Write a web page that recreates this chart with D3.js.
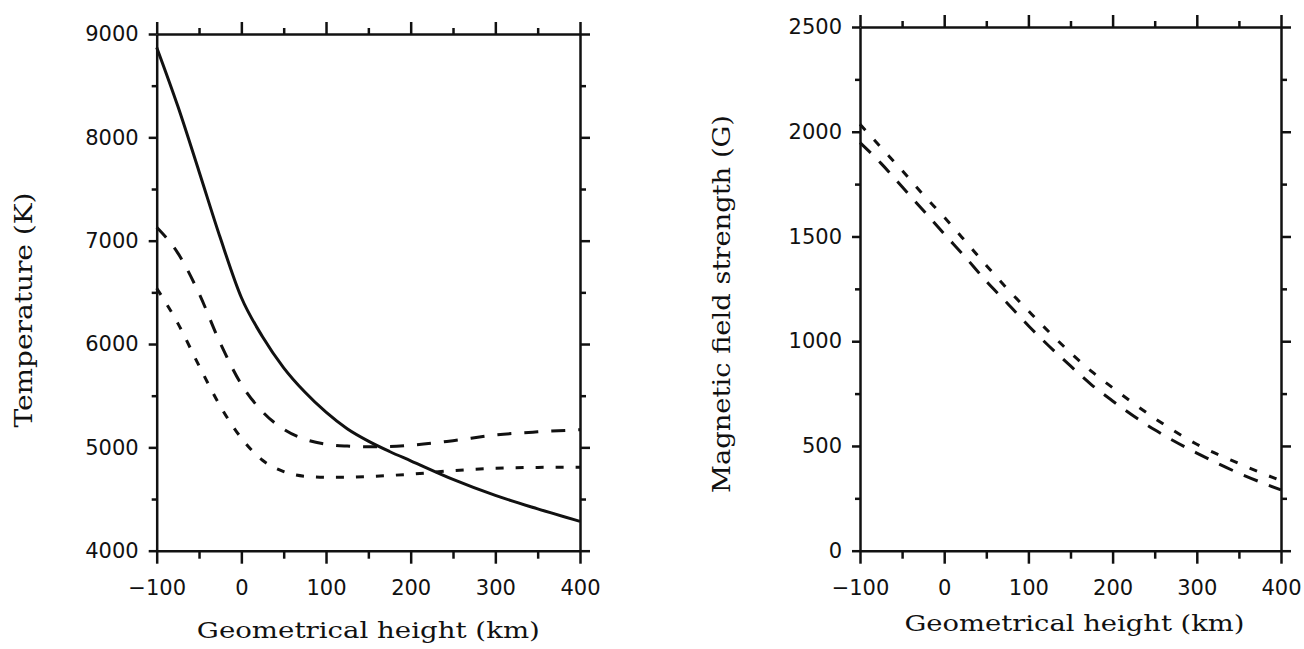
<!DOCTYPE html>
<html>
<head>
<meta charset="utf-8">
<script src="https://cdn.jsdelivr.net/npm/d3@7"></script>
<style>
  body { margin: 0; background: #fff; }
  svg { display: block; }
</style>
</head>
<body>
<div id="chart"></div>
<script>
var heights = [-100, -75, -50, -25, 0, 25, 50, 75, 100, 125, 150, 175, 200, 250, 300, 350, 400];

// left panel: temperature (K)
var tempSolid = [8870, 8300, 7670, 7030, 6450, 6070, 5770, 5535, 5340, 5180, 5060, 4960, 4870, 4690, 4535, 4405, 4284];
var tempLongDash = [7130, 6880, 6490, 6010, 5610, 5345, 5175, 5078, 5030, 5012, 5005, 5008, 5020, 5065, 5120, 5150, 5170];
var tempShortDash = [6540, 6200, 5790, 5400, 5090, 4875, 4765, 4720, 4710, 4712, 4718, 4728, 4740, 4775, 4797, 4806, 4808];

// right panel: magnetic field strength (G)
var fieldShortDash = [2036, 1925, 1815, 1700, 1592, 1478, 1362, 1250, 1145, 1042, 945, 856, 778, 632, 508, 416, 334];
var fieldLongDash = [1948, 1849, 1737, 1625, 1512, 1402, 1286, 1181, 1074, 975, 882, 792, 715, 577, 466, 370, 290];

// tick values
var xMajor = [-100, 0, 100, 200, 300, 400];
var xMinor = [-50, 50, 150, 250, 350];
var tempMajor = [4000, 5000, 6000, 7000, 8000, 9000];
var tempMinor = [4500, 5500, 6500, 7500, 8500];
var fieldMajor = [0, 500, 1000, 1500, 2000, 2500];
var fieldMinor = [250, 750, 1250, 1750, 2250];

var svgWidth = 1304;
var svgHeight = 649;
var ink = "#111";

var svg = d3.select("#chart")
  .append("svg")
  .attr("width", svgWidth)
  .attr("height", svgHeight);

// minus sign like the original
function fmt(d) {
  return d < 0 ? "\u2212" + Math.abs(d) : String(d);
}

function styleAxis(g) {
  g.selectAll("path, line").attr("stroke", ink).attr("stroke-width", 2.5);
  g.selectAll("text")
    .attr("fill", ink)
    .style("font-family", "'DejaVu Sans', sans-serif")
    .style("font-size", "21px");
}

function drawPanel(opts) {
  var x = d3.scaleLinear().domain([-100, 400]).range(opts.xRange);
  var y = d3.scaleLinear().domain(opts.yDomain).range(opts.yRange);
  var g = svg.append("g");

  // bottom axis (labels), top axis (ticks only)
  g.append("g").attr("transform", `translate(0, ${opts.yRange[0]})`)
    .call(d3.axisBottom(x).tickValues(xMajor).tickSize(13).tickSizeOuter(0).tickPadding(16).tickFormat(fmt))
    .call(styleAxis);
  g.append("g").attr("transform", `translate(0, ${opts.yRange[0]})`)
    .call(d3.axisBottom(x).tickValues(xMinor).tickSize(8).tickFormat(""))
    .call(styleAxis).select(".domain").remove();
  g.append("g").attr("transform", `translate(0, ${opts.yRange[1]})`)
    .call(d3.axisTop(x).tickValues(xMajor).tickSize(12).tickSizeOuter(0).tickFormat(""))
    .call(styleAxis);
  g.append("g").attr("transform", `translate(0, ${opts.yRange[1]})`)
    .call(d3.axisTop(x).tickValues(xMinor).tickSize(6).tickFormat(""))
    .call(styleAxis).select(".domain").remove();

  // left axis (labels), right axis (ticks only)
  g.append("g").attr("transform", `translate(${opts.xRange[0]}, 0)`)
    .call(d3.axisLeft(y).tickValues(opts.yMajor).tickSize(8).tickSizeOuter(0).tickPadding(10).tickFormat(fmt))
    .call(styleAxis);
  g.append("g").attr("transform", `translate(${opts.xRange[0]}, 0)`)
    .call(d3.axisLeft(y).tickValues(opts.yMinor).tickSize(5).tickFormat(""))
    .call(styleAxis).select(".domain").remove();
  g.append("g").attr("transform", `translate(${opts.xRange[1]}, 0)`)
    .call(d3.axisRight(y).tickValues(opts.yMajor).tickSize(10).tickSizeOuter(0).tickFormat(""))
    .call(styleAxis);
  g.append("g").attr("transform", `translate(${opts.xRange[1]}, 0)`)
    .call(d3.axisRight(y).tickValues(opts.yMinor).tickSize(6).tickFormat(""))
    .call(styleAxis).select(".domain").remove();

  // curves
  opts.series.forEach(function(s) {
    var line = d3.line()
      .x((d, i) => x(heights[i]))
      .y(d => y(d))
      .curve(d3.curveMonotoneX);
    g.append("path")
      .datum(s.values)
      .attr("d", line)
      .attr("fill", "none")
      .attr("stroke", ink)
      .attr("stroke-width", 3)
      .attr("stroke-dasharray", s.dash);
  });

  // axis titles
  var xMid = (opts.xRange[0] + opts.xRange[1]) / 2;
  g.append("text")
    .attr("x", xMid + opts.xTitleShift)
    .attr("y", opts.xTitleY)
    .attr("text-anchor", "middle")
    .attr("textLength", opts.xTitleLen)
    .attr("lengthAdjust", "spacingAndGlyphs")
    .style("font-family", "'DejaVu Serif', serif")
    .style("font-size", "23px")
    .attr("fill", ink)
    .text("Geometrical height (km)");

  g.append("text")
    .attr("transform", `translate(${opts.yTitleX}, ${opts.yTitleY}) rotate(-90)`)
    .attr("text-anchor", "middle")
    .attr("textLength", opts.yTitleLen)
    .attr("lengthAdjust", "spacingAndGlyphs")
    .style("font-family", "'DejaVu Serif', serif")
    .style("font-size", "25px")
    .attr("fill", ink)
    .text(opts.yTitle);
}

drawPanel({
  xRange: [156.7, 580],
  yRange: [550.7, 34],
  yDomain: [4000, 9000],
  yMajor: tempMajor,
  yMinor: tempMinor,
  series: [
    { values: tempSolid, dash: null },
    { values: tempLongDash, dash: "14,13" },
    { values: tempShortDash, dash: "8,12" }
  ],
  xTitleShift: 0,
  xTitleY: 638,
  xTitleLen: 343,
  yTitle: "Temperature (K)",
  yTitleX: 31.7,
  yTitleY: 310,
  yTitleLen: 235
});

drawPanel({
  xRange: [860, 1281],
  yRange: [550.7, 27],
  yDomain: [0, 2500],
  yMajor: fieldMajor,
  yMinor: fieldMinor,
  series: [
    { values: fieldShortDash, dash: "8,13" },
    { values: fieldLongDash, dash: "15,12" }
  ],
  xTitleShift: 4,
  xTitleY: 631,
  xTitleLen: 340,
  yTitle: "Magnetic field strength (G)",
  yTitleX: 730,
  yTitleY: 304,
  yTitleLen: 378
});
</script>
</body>
</html>
